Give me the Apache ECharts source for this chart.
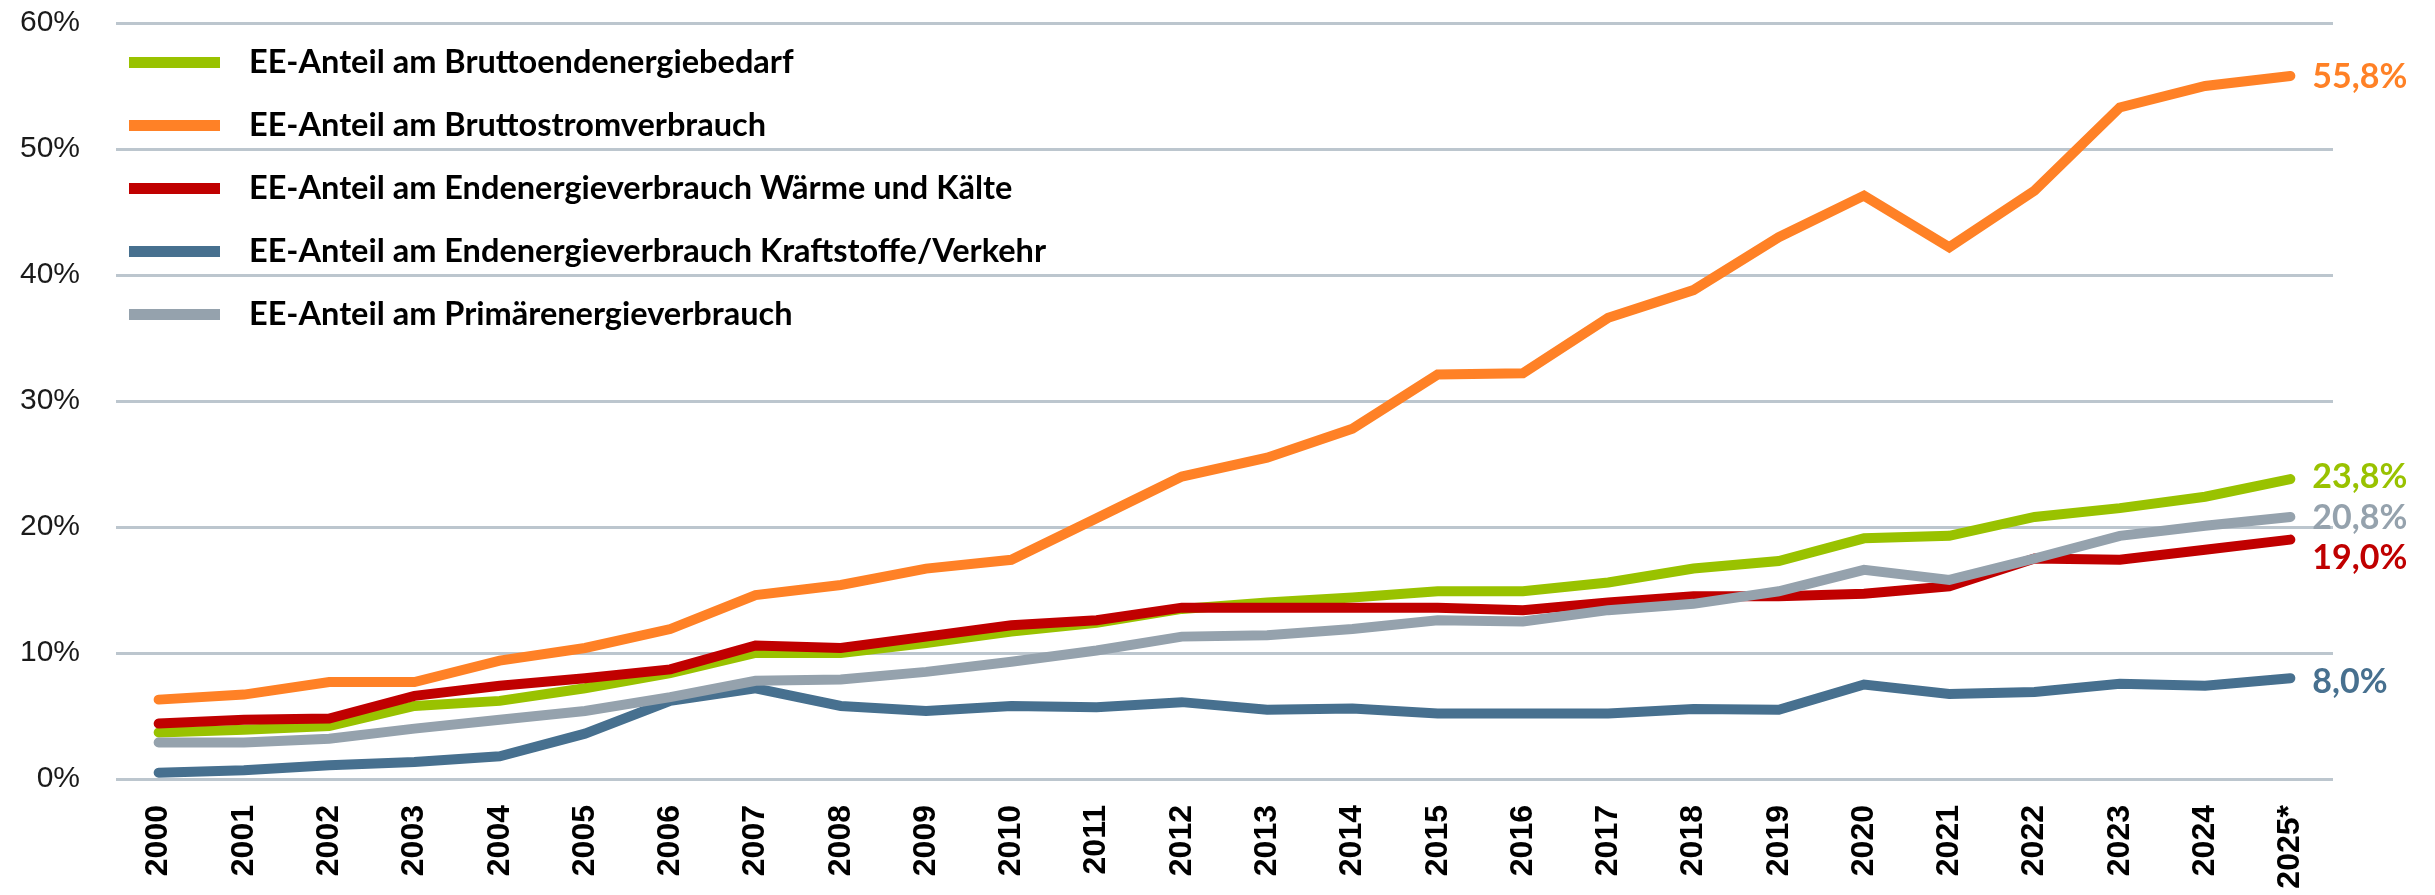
<!DOCTYPE html>
<html>
<head>
<meta charset="utf-8">
<script src="https://cdn.jsdelivr.net/npm/echarts@6/dist/echarts.min.js"></script>
<style>
  html, body { margin: 0; padding: 0; background: #fff; }
  #chart { width: 2435px; height: 895px; }
</style>
</head>
<body>
<div id="chart"></div>
<script>
// Jahre (2025 vorläufig)
const years = ['2000', '2001', '2002', '2003', '2004', '2005', '2006', '2007', '2008', '2009',
  '2010', '2011', '2012', '2013', '2014', '2015', '2016', '2017', '2018', '2019',
  '2020', '2021', '2022', '2023', '2024', '2025*']

const seriesNames = [
  'EE-Anteil am Bruttoendenergiebedarf',
  'EE-Anteil am Bruttostromverbrauch',
  'EE-Anteil am Endenergieverbrauch Wärme und Kälte',
  'EE-Anteil am Endenergieverbrauch Kraftstoffe/Verkehr',
  'EE-Anteil am Primärenergieverbrauch'
]

// Anteile in %
const bruttoendenergie = [3.7, 3.9, 4.2, 5.8, 6.2, 7.2, 8.4, 10.0, 10.0, 10.8,
  11.7, 12.4, 13.5, 14.0, 14.4, 14.9, 14.9, 15.6, 16.7, 17.3,
  19.1, 19.3, 20.8, 21.5, 22.4, 23.8]
const bruttostrom = [6.3, 6.7, 7.7, 7.7, 9.4, 10.4, 11.9, 14.6, 15.4, 16.7,
  17.4, 20.7, 24.0, 25.5, 27.8, 32.1, 32.2, 36.6, 38.8, 43.0,
  46.3, 42.2, 46.7, 53.3, 55.0, 55.8]
const waermeKaelte = [4.4, 4.7, 4.8, 6.6, 7.4, 8.0, 8.7, 10.6, 10.4, 11.3,
  12.2, 12.6, 13.6, 13.6, 13.6, 13.6, 13.4, 14.0, 14.5, 14.5,
  14.7, 15.3, 17.5, 17.4, 18.2, 19.0]
const verkehr = [0.5, 0.7, 1.1, 1.35, 1.8, 3.6, 6.2, 7.2, 5.8, 5.4,
  5.8, 5.7, 6.1, 5.5, 5.6, 5.2, 5.2, 5.2, 5.55, 5.5,
  7.5, 6.75, 6.9, 7.55, 7.4, 8.0]
const primaerenergie = [2.9, 2.9, 3.2, 4.0, 4.7, 5.4, 6.5, 7.8, 7.9, 8.5,
  9.3, 10.2, 11.3, 11.4, 11.9, 12.6, 12.5, 13.4, 13.9, 14.9,
  16.6, 15.8, 17.5, 19.3, 20.1, 20.8]

const values = [bruttoendenergie, bruttostrom, waermeKaelte, verkehr, primaerenergie]
const colors = ['#99c200', '#ff8126', '#c00000', '#47708f', '#95a2ad']
const labelOffsets = [[0, -2], [0, 1], [0, 18], [0, 4], [0, 1]]

const fmtPct = (v) => v.toFixed(1).replace('.', ',') + '%'

const chart = echarts.init(document.getElementById('chart'))

chart.setOption({
  animation: false,
  grid: {
    left: 116,
    right: 102,
    top: 23,
    bottom: 116,
    containLabel: false,
    outerBoundsMode: 'none'
  },
  legend: {
    orient: 'vertical',
    left: 124,
    top: 41,
    itemWidth: 91,
    itemHeight: 11,
    itemGap: 30,
    icon: 'rect',
    selectedMode: false,
    textStyle: {
      fontFamily: 'Lato',
      fontWeight: 'bold',
      fontSize: 32.5,
      lineHeight: 32,
      color: '#000',
      padding: [0, 0, 0, 24]
    },
    data: seriesNames
  },
  xAxis: {
    type: 'category',
    data: years,
    boundaryGap: true,
    axisLine: { show: false },
    axisTick: { show: false },
    axisLabel: {
      rotate: 90,
      margin: 26,
      interval: 0,
      fontFamily: 'Liberation Sans',
      fontWeight: 'bold',
      fontSize: 32,
      color: '#000'
    }
  },
  yAxis: {
    type: 'value',
    min: 0,
    max: 60,
    interval: 10,
    axisLine: { show: false },
    axisTick: { show: false },
    axisLabel: {
      margin: 36,
      fontFamily: 'Liberation Sans',
      fontSize: 30,
      color: '#1a1a1a',
      formatter: '{value}%'
    },
    splitLine: {
      lineStyle: { color: '#bcc6ce', width: 3 }
    }
  },
  series: seriesNames.map((name, i) => ({
    name: name,
    type: 'line',
    data: values[i],
    showSymbol: false,
    color: colors[i],
    lineStyle: {
      width: 10,
      color: colors[i],
      cap: 'round',
      join: 'miter'
    },
    endLabel: {
      show: true,
      distance: 22,
      offset: labelOffsets[i],
      fontFamily: 'Lato',
      fontWeight: 'bold',
      fontSize: 34,
      color: colors[i],
      formatter: (p) => fmtPct(p.value)
    }
  }))
})
</script>
</body>
</html>
